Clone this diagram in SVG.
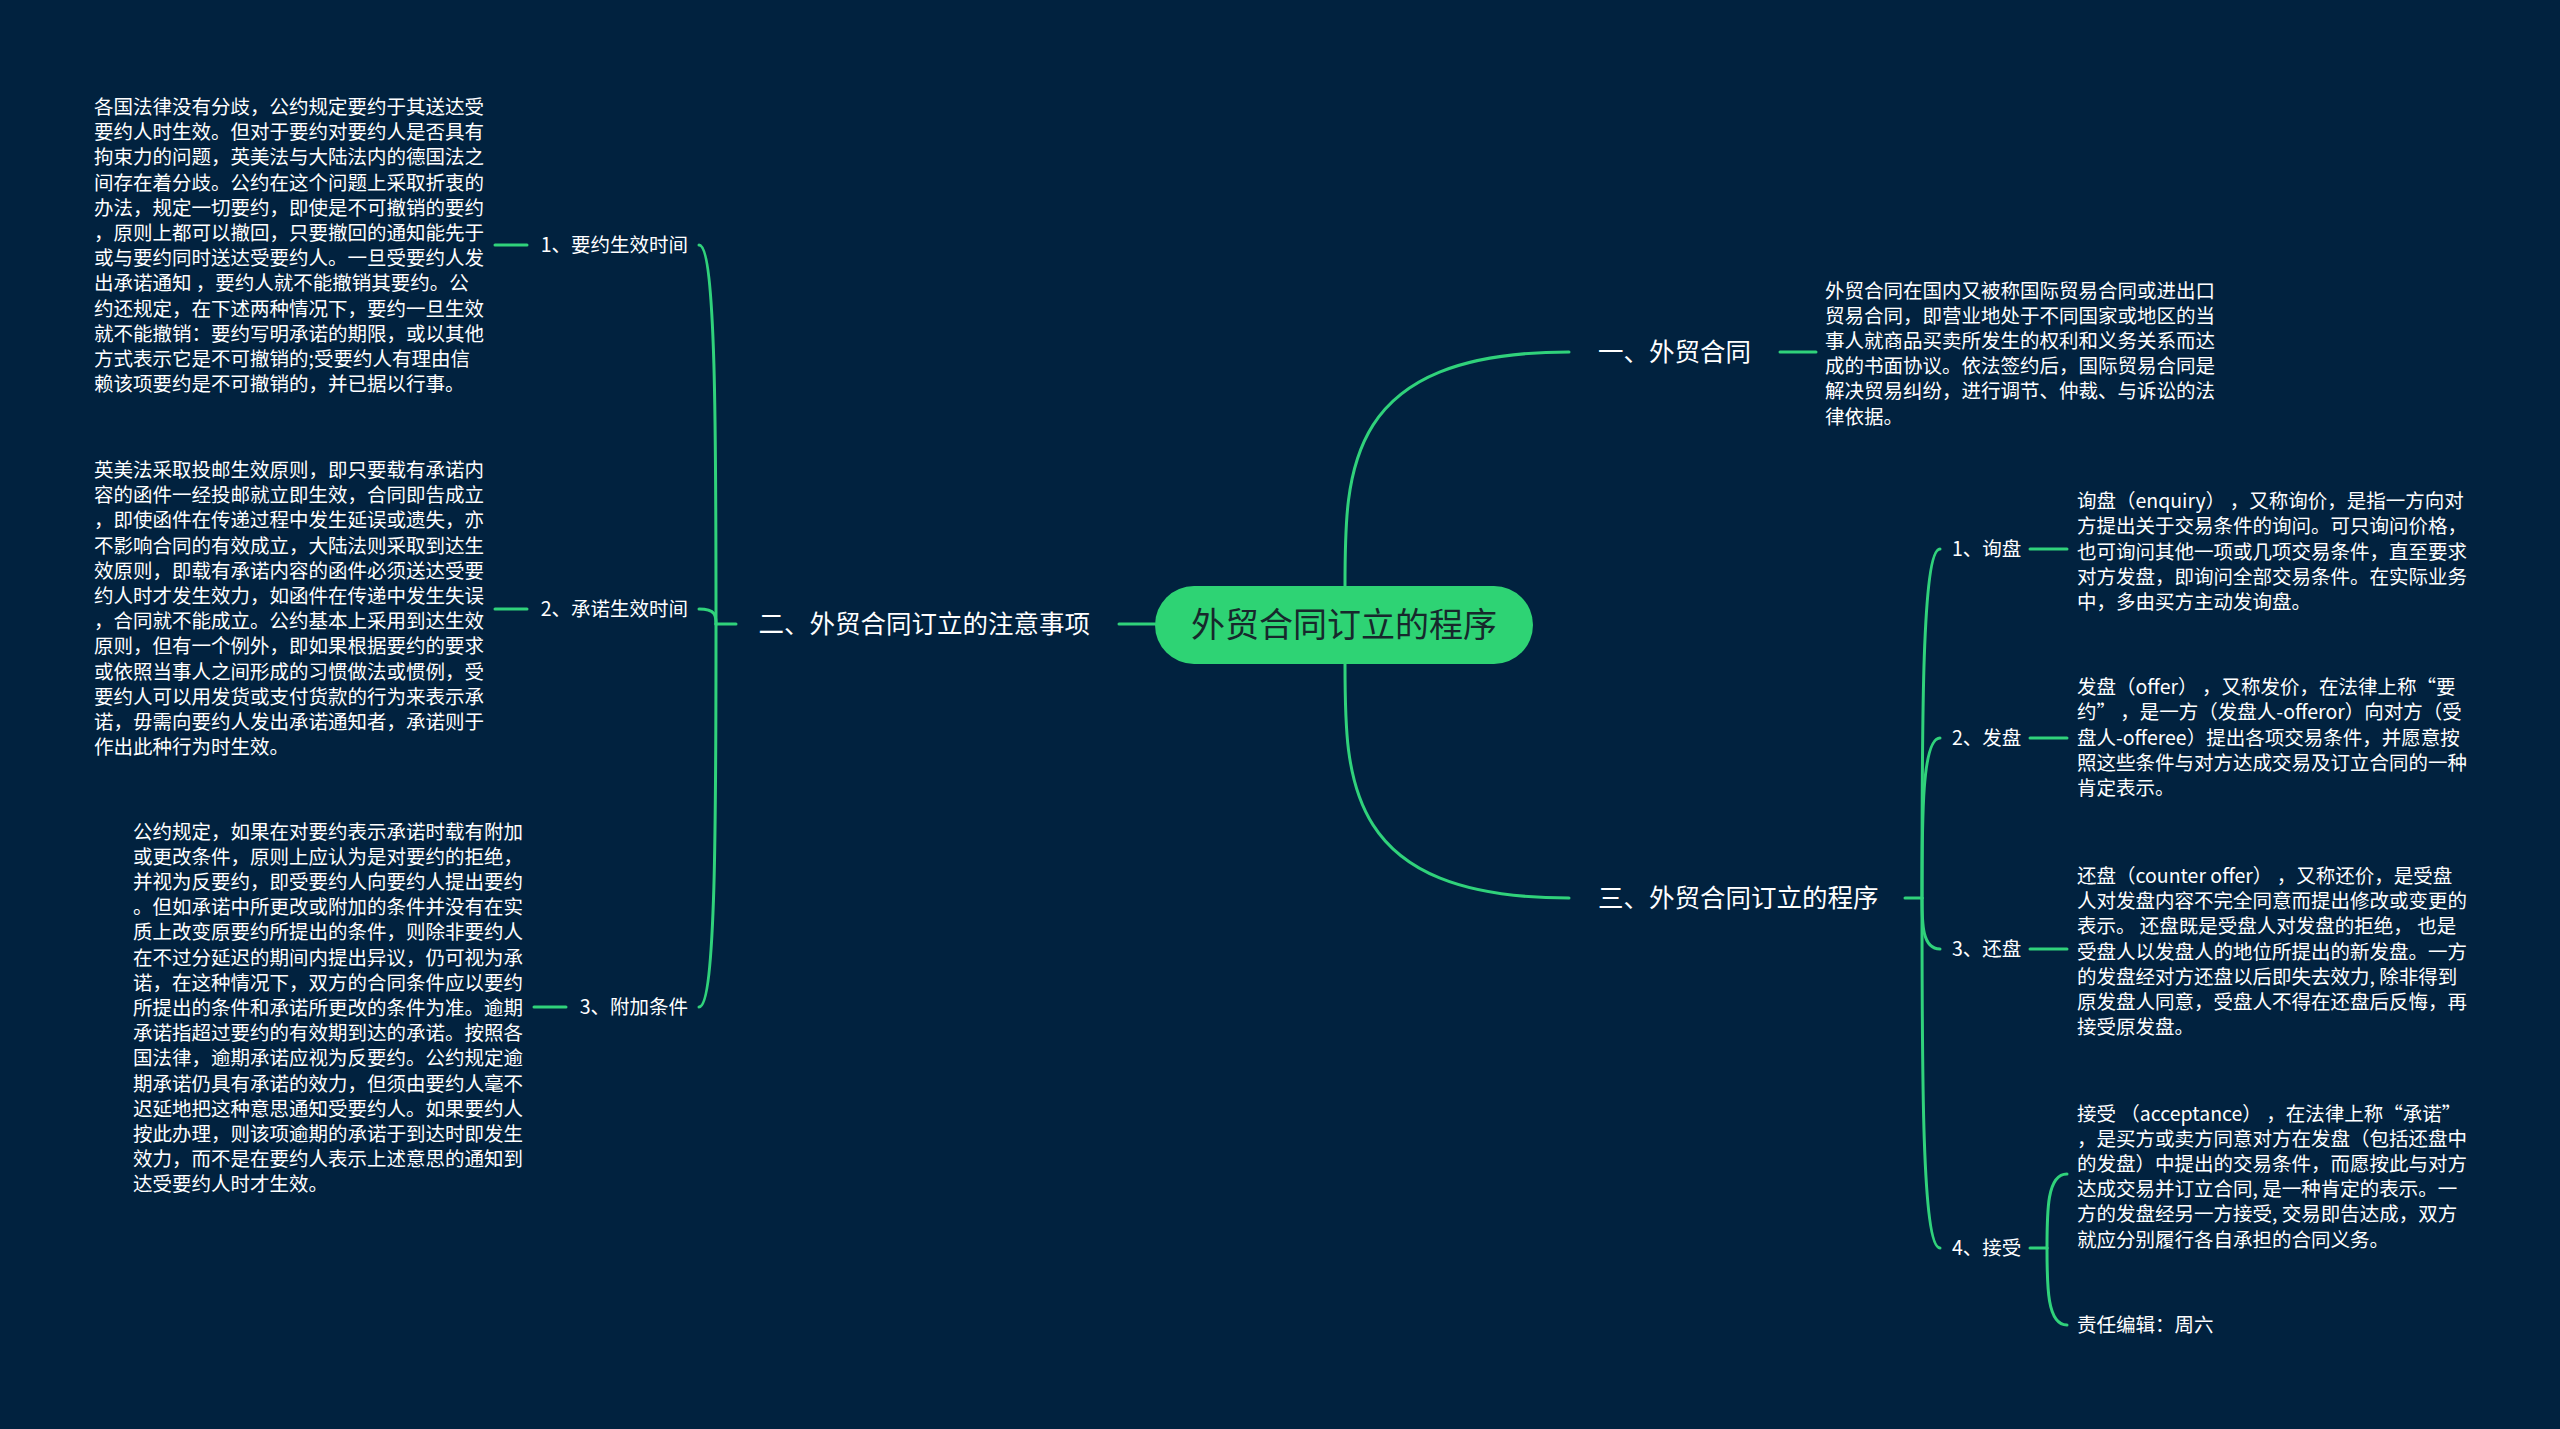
<svg xmlns="http://www.w3.org/2000/svg" width="2560" height="1429" viewBox="0 0 2560 1429">
<style>
.ln{fill:none;stroke:#30d27b;stroke-width:3;stroke-linecap:round}
.t{font-family:"Noto Sans CJK SC","Noto Sans",sans-serif;fill:#ffffff;dominant-baseline:central}
.b{font-size:19.5px;transform:translate(0px,-1.5px)}
.l2{font-size:19.5px;transform:translate(0px,-1.5px)}
.l1{font-size:25.5px;transform:translate(0px,-2.5px)}
.c{font-size:34px;fill:#17282c;transform:translate(0px,-2.5px)}
</style>
<rect x="0" y="0" width="2560" height="1429" fill="#01223f"/>
<g id="connectors">
<path class="ln" d="M1345,586 C1345,469 1345,352 1569,352"/>
<path class="ln" d="M1345,664 C1345,781 1345,898 1569,898"/>
<path class="ln" d="M1119,624 H1155"/>
<path class="ln" d="M1780,352 H1816"/>
<path class="ln" d="M1905,898 H1922"/>
<path class="ln" d="M1922,898 C1922,723 1922,549 1940,549"/>
<path class="ln" d="M1922,898 C1922,818 1922,738 1940,738"/>
<path class="ln" d="M1922,898 C1922,923 1922,949 1940,949"/>
<path class="ln" d="M1922,898 C1922,1073 1922,1248 1940,1248"/>
<path class="ln" d="M2030,549 H2067"/>
<path class="ln" d="M2030,738 H2067"/>
<path class="ln" d="M2030,949 H2067"/>
<path class="ln" d="M2030,1248 H2047"/>
<path class="ln" d="M2047,1248 C2047,1211 2047,1174 2067,1174"/>
<path class="ln" d="M2047,1248 C2047,1286 2047,1325 2067,1325"/>
<path class="ln" d="M736,624 H716"/>
<path class="ln" d="M716,624 C716,435 716,245 699,245"/>
<path class="ln" d="M716,624 C716,616 716,609 699,609"/>
<path class="ln" d="M716,624 C716,815 716,1007 699,1007"/>
<path class="ln" d="M495,245 H527"/>
<path class="ln" d="M495,609 H527"/>
<path class="ln" d="M534,1007 H566"/>
</g>
<g id="root">
<rect x="1155" y="586" width="378" height="78" rx="39" fill="#2ed374"/>
<text class="t c" x="1344" y="625" text-anchor="middle">外贸合同订立的程序</text>
</g>
<g id="n1">
<text class="t l1" x="1598" y="352">一、外贸合同</text>
</g>
<g id="n1-text">
<text class="t b" x="1825" y="290">
<tspan x="1825" y="290">外贸合同在国内又被称国际贸易合同或进出口</tspan>
<tspan x="1825" dy="25.2">贸易合同，即营业地处于不同国家或地区的当</tspan>
<tspan x="1825" dy="25.2">事人就商品买卖所发生的权利和义务关系而达</tspan>
<tspan x="1825" dy="25.2">成的书面协议。依法签约后，国际贸易合同是</tspan>
<tspan x="1825" dy="25.2">解决贸易纠纷，进行调节、仲裁、与诉讼的法</tspan>
<tspan x="1825" dy="25.2">律依据。</tspan>
</text>
</g>
<g id="n3">
<text class="t l1" x="1598" y="898">三、外贸合同订立的程序</text>
</g>
<g id="n3-1">
<text class="t l2" x="1952" y="549">1、询盘</text>
<text class="t b" x="2077" y="500.6">
<tspan x="2077" y="500.6">询盘（enquiry） ，又称询价，是指一方向对</tspan>
<tspan x="2077" dy="25.2">方提出关于交易条件的询问。可只询问价格，</tspan>
<tspan x="2077" dy="25.2">也可询问其他一项或几项交易条件，直至要求</tspan>
<tspan x="2077" dy="25.2">对方发盘，即询问全部交易条件。在实际业务</tspan>
<tspan x="2077" dy="25.2">中，多由买方主动发询盘。</tspan>
</text>
</g>
<g id="n3-2">
<text class="t l2" x="1952" y="738">2、发盘</text>
<text class="t b" x="2077" y="686.6">
<tspan x="2077" y="686.6">发盘（offer） ，又称发价，在法律上称“要</tspan>
<tspan x="2077" dy="25.2">约” ，是一方（发盘人-offeror）向对方（受</tspan>
<tspan x="2077" dy="25.2">盘人-offeree）提出各项交易条件，并愿意按</tspan>
<tspan x="2077" dy="25.2">照这些条件与对方达成交易及订立合同的一种</tspan>
<tspan x="2077" dy="25.2">肯定表示。</tspan>
</text>
</g>
<g id="n3-3">
<text class="t l2" x="1952" y="949">3、还盘</text>
<text class="t b" x="2077" y="875.4">
<tspan x="2077" y="875.4">还盘（counter offer） ，又称还价，是受盘</tspan>
<tspan x="2077" dy="25.2">人对发盘内容不完全同意而提出修改或变更的</tspan>
<tspan x="2077" dy="25.2">表示。 还盘既是受盘人对发盘的拒绝， 也是</tspan>
<tspan x="2077" dy="25.2">受盘人以发盘人的地位所提出的新发盘。一方</tspan>
<tspan x="2077" dy="25.2">的发盘经对方还盘以后即失去效力, 除非得到</tspan>
<tspan x="2077" dy="25.2">原发盘人同意，受盘人不得在还盘后反悔，再</tspan>
<tspan x="2077" dy="25.2">接受原发盘。</tspan>
</text>
</g>
<g id="n3-4">
<text class="t l2" x="1952" y="1248">4、接受</text>
<text class="t b" x="2077" y="1113">
<tspan x="2077" y="1113">接受 （acceptance） ，在法律上称“承诺”</tspan>
<tspan x="2077" dy="25.2">，是买方或卖方同意对方在发盘（包括还盘中</tspan>
<tspan x="2077" dy="25.2">的发盘）中提出的交易条件，而愿按此与对方</tspan>
<tspan x="2077" dy="25.2">达成交易并订立合同, 是一种肯定的表示。一</tspan>
<tspan x="2077" dy="25.2">方的发盘经另一方接受, 交易即告达成，双方</tspan>
<tspan x="2077" dy="25.2">就应分别履行各自承担的合同义务。</tspan>
</text>
<text class="t b" x="2077" y="1325">责任编辑：周六</text>
</g>
<g id="n2">
<text class="t l1" x="1090" y="624" text-anchor="end">二、外贸合同订立的注意事项</text>
</g>
<g id="n2-1">
<text class="t l2" x="688" y="245" text-anchor="end">1、要约生效时间</text>
<text class="t b" x="94" y="106.4">
<tspan x="94" y="106.4">各国法律没有分歧，公约规定要约于其送达受</tspan>
<tspan x="94" dy="25.2">要约人时生效。但对于要约对要约人是否具有</tspan>
<tspan x="94" dy="25.2">拘束力的问题，英美法与大陆法内的德国法之</tspan>
<tspan x="94" dy="25.2">间存在着分歧。公约在这个问题上采取折衷的</tspan>
<tspan x="94" dy="25.2">办法，规定一切要约，即使是不可撤销的要约</tspan>
<tspan x="94" dy="25.2">，原则上都可以撤回，只要撤回的通知能先于</tspan>
<tspan x="94" dy="25.2">或与要约同时送达受要约人。一旦受要约人发</tspan>
<tspan x="94" dy="25.2">出承诺通知 ，要约人就不能撤销其要约。公</tspan>
<tspan x="94" dy="25.2">约还规定，在下述两种情况下，要约一旦生效</tspan>
<tspan x="94" dy="25.2">就不能撤销：要约写明承诺的期限，或以其他</tspan>
<tspan x="94" dy="25.2">方式表示它是不可撤销的;受要约人有理由信</tspan>
<tspan x="94" dy="25.2">赖该项要约是不可撤销的，并已据以行事。</tspan>
</text>
</g>
<g id="n2-2">
<text class="t l2" x="688" y="609" text-anchor="end">2、承诺生效时间</text>
<text class="t b" x="94" y="469.4">
<tspan x="94" y="469.4">英美法采取投邮生效原则，即只要载有承诺内</tspan>
<tspan x="94" dy="25.2">容的函件一经投邮就立即生效，合同即告成立</tspan>
<tspan x="94" dy="25.2">，即使函件在传递过程中发生延误或遗失，亦</tspan>
<tspan x="94" dy="25.2">不影响合同的有效成立，大陆法则采取到达生</tspan>
<tspan x="94" dy="25.2">效原则，即载有承诺内容的函件必须送达受要</tspan>
<tspan x="94" dy="25.2">约人时才发生效力，如函件在传递中发生失误</tspan>
<tspan x="94" dy="25.2">，合同就不能成立。公约基本上采用到达生效</tspan>
<tspan x="94" dy="25.2">原则，但有一个例外，即如果根据要约的要求</tspan>
<tspan x="94" dy="25.2">或依照当事人之间形成的习惯做法或惯例，受</tspan>
<tspan x="94" dy="25.2">要约人可以用发货或支付货款的行为来表示承</tspan>
<tspan x="94" dy="25.2">诺，毋需向要约人发出承诺通知者，承诺则于</tspan>
<tspan x="94" dy="25.2">作出此种行为时生效。</tspan>
</text>
</g>
<g id="n2-3">
<text class="t l2" x="688" y="1007" text-anchor="end">3、附加条件</text>
<text class="t b" x="133" y="831.1">
<tspan x="133" y="831.1">公约规定，如果在对要约表示承诺时载有附加</tspan>
<tspan x="133" dy="25.2">或更改条件，原则上应认为是对要约的拒绝，</tspan>
<tspan x="133" dy="25.2">并视为反要约，即受要约人向要约人提出要约</tspan>
<tspan x="133" dy="25.2">。但如承诺中所更改或附加的条件并没有在实</tspan>
<tspan x="133" dy="25.2">质上改变原要约所提出的条件，则除非要约人</tspan>
<tspan x="133" dy="25.2">在不过分延迟的期间内提出异议，仍可视为承</tspan>
<tspan x="133" dy="25.2">诺，在这种情况下，双方的合同条件应以要约</tspan>
<tspan x="133" dy="25.2">所提出的条件和承诺所更改的条件为准。逾期</tspan>
<tspan x="133" dy="25.2">承诺指超过要约的有效期到达的承诺。按照各</tspan>
<tspan x="133" dy="25.2">国法律，逾期承诺应视为反要约。公约规定逾</tspan>
<tspan x="133" dy="25.2">期承诺仍具有承诺的效力，但须由要约人毫不</tspan>
<tspan x="133" dy="25.2">迟延地把这种意思通知受要约人。如果要约人</tspan>
<tspan x="133" dy="25.2">按此办理，则该项逾期的承诺于到达时即发生</tspan>
<tspan x="133" dy="25.2">效力，而不是在要约人表示上述意思的通知到</tspan>
<tspan x="133" dy="25.2">达受要约人时才生效。</tspan>
</text>
</g>
</svg>
